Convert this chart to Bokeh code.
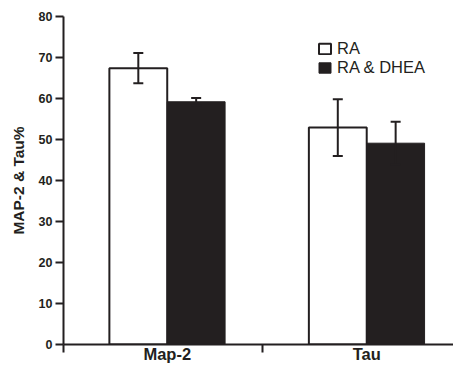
from bokeh.plotting import figure
from bokeh.models import (Range1d, FixedTicker, ColumnDataSource, Whisker, TeeHead,
                          Legend, LegendItem)
from bokeh.embed import file_html
from bokeh.resources import INLINE

# ---- data ----
categories = ["Map-2", "Tau"]
ra_values = [67.4, 52.9]
ra_errors = [3.7, 6.9]
dhea_values = [59.2, 49.1]
dhea_errors = [0.9, 5.2]
series_names = ["RA", "RA & DHEA"]
y_ticks = [0, 10, 20, 30, 40, 50, 60, 70, 80]

INK = "#231f20"
FONT = "Liberation Sans"
GROUP_OFFSET = 0.52
BAR_W = 0.29

centers = [i + GROUP_OFFSET for i in range(len(categories))]
ra_x = [c - BAR_W / 2 for c in centers]
dhea_x = [c + BAR_W / 2 for c in centers]

ra_src = ColumnDataSource(dict(x=ra_x, top=ra_values,
                               upper=[v + e for v, e in zip(ra_values, ra_errors)],
                               lower=[v - e for v, e in zip(ra_values, ra_errors)]))
dhea_src = ColumnDataSource(dict(x=dhea_x, top=dhea_values,
                                 upper=[v + e for v, e in zip(dhea_values, dhea_errors)],
                                 lower=[v - e for v, e in zip(dhea_values, dhea_errors)]))

p = figure(width=453, height=365, output_backend="svg", toolbar_location=None,
           x_range=Range1d(0, 1.955), y_range=Range1d(0, 80),
           min_border_left=63, min_border_right=0, min_border_top=16, min_border_bottom=21)
p.outline_line_color = None
p.xgrid.grid_line_color = None
p.ygrid.grid_line_color = None
p.background_fill_color = "white"
p.border_fill_color = "white"

r_ra = p.vbar(x="x", top="top", bottom=0, width=BAR_W, source=ra_src,
              fill_color="white", line_color=INK, line_width=2)
r_dhea = p.vbar(x="x", top="top", bottom=0, width=BAR_W, source=dhea_src,
                fill_color=INK, line_color=INK, line_width=1)

for src in (ra_src, dhea_src):
    w = Whisker(source=src, base="x", upper="upper", lower="lower",
                line_color=INK, line_width=2, level="overlay",
                upper_head=TeeHead(size=10, line_color=INK, line_width=2),
                lower_head=TeeHead(size=10, line_color=INK, line_width=2))
    p.add_layout(w)

# y axis
yax = p.yaxis[0]
yax.ticker = FixedTicker(ticks=y_ticks, minor_ticks=[])
yax.axis_line_width = 2
yax.axis_line_color = INK
yax.major_tick_line_width = 2
yax.major_tick_line_color = INK
yax.major_tick_out = 8
yax.major_tick_in = 0
yax.major_label_standoff = 3
yax.major_label_text_font = FONT
yax.major_label_text_font_style = "bold"
yax.major_label_text_font_size = "12.5px"
yax.major_label_text_color = INK
yax.axis_label = "MAP-2 & Tau%"
yax.axis_label_text_font = FONT
yax.axis_label_text_font_style = "bold"
yax.axis_label_text_font_size = "15.5px"
yax.axis_label_text_color = INK
yax.axis_label_standoff = 9

# x axis
xax = p.xaxis[0]
xax.ticker = FixedTicker(ticks=centers, minor_ticks=[0, 1, 2])
xax.major_label_overrides = {c: name for c, name in zip(centers, categories)}
xax.axis_line_width = 2
xax.axis_line_color = INK
xax.major_tick_out = 0
xax.major_tick_in = 0
xax.minor_tick_out = 8
xax.minor_tick_in = 0
xax.minor_tick_line_width = 2
xax.minor_tick_line_color = INK
xax.major_label_standoff = -8
xax.major_label_text_font = FONT
xax.major_label_text_font_style = "bold"
xax.major_label_text_font_size = "16.5px"
xax.major_label_text_color = INK

legend_common = dict(orientation="vertical", glyph_width=15, glyph_height=13,
                     label_standoff=5, label_height=14, spacing=0, padding=0, margin=0,
                     border_line_color=None, background_fill_alpha=0,
                     label_text_font=FONT, label_text_font_size="16.5px",
                     label_text_color=INK)
legend_ra = Legend(items=[LegendItem(label=series_names[0], renderers=[r_ra])],
                   location=(254, 286), **legend_common)
legend_dhea = Legend(items=[LegendItem(label=series_names[1], renderers=[r_dhea])],
                     location=(254, 267), **legend_common)
p.add_layout(legend_ra)
p.add_layout(legend_dhea)

open("out.html", "w").write(file_html(p, INLINE))
